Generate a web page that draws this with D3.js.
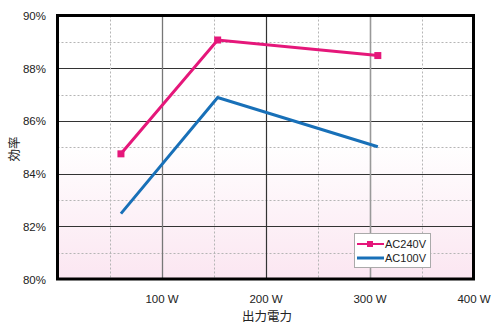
<!DOCTYPE html>
<html><head><meta charset="utf-8">
<script src="https://cdn.jsdelivr.net/npm/d3@7"></script>
<style>body{margin:0;background:#fff;} svg{display:block;font-family:"Liberation Sans",Arial,sans-serif;}</style>
</head><body><div id="chart"></div>
<script>
const seriesNames = ["AC240V", "AC100V"];
const power = [61, 154, 308];
const ac240 = [84.75, 89.07, 88.48];
const ac100 = [82.48, 86.89, 85.02];
const xTicks = [100, 200, 300, 400];
const yTicks = [80, 82, 84, 86, 88, 90];
const colors = ["#e5177a", "#1870b8"];

const W = 500, H = 328;
const svg = d3.select("#chart").append("svg").attr("width", W).attr("height", H);
const x = d3.scaleLinear().domain([0, 400]).range([57.5, 473.5]);
const y = d3.scaleLinear().domain([80, 90]).range([279, 15.5]);

const defs = svg.append("defs");
const grad = defs.append("linearGradient").attr("id", "bg").attr("x1", 0).attr("y1", 0).attr("x2", 0).attr("y2", 1);
grad.append("stop").attr("offset", "0").attr("stop-color", "#ffffff");
grad.append("stop").attr("offset", "0.48").attr("stop-color", "#ffffff");
grad.append("stop").attr("offset", "1").attr("stop-color", "#fbe6f1");

svg.append("rect").attr("x", x(0)).attr("y", y(90)).attr("width", x(400) - x(0)).attr("height", y(80) - y(90)).attr("fill", "url(#bg)");

// horizontal grid
const hg = svg.append("g");
d3.range(81, 90).forEach(v => {
  const major = v % 2 === 0;
  hg.append("line").attr("x1", x(0)).attr("x2", x(400)).attr("y1", Math.round(y(v)) + 0.5).attr("y2", Math.round(y(v)) + 0.5)
    .attr("stroke", major ? "#333" : "#b5b5b5").attr("stroke-width", major ? 1.2 : 1)
    .attr("stroke-dasharray", major ? null : "2,2");
});
// vertical grid
[50, 100, 150, 200, 250, 300, 350].forEach(v => {
  const dashed = v % 100 !== 0;
  let col = "#b5b5b5", sw = 1;
  if (v === 200) { col = "#333"; sw = 1.2; }
  else if (v === 100) { col = "#777"; sw = 1.3; }
  else if (v === 300) { col = "#999"; sw = 1.6; }
  svg.append("line").attr("x1", Math.round(x(v)) + 0.5).attr("x2", Math.round(x(v)) + 0.5).attr("y1", y(90)).attr("y2", y(80))
    .attr("stroke", col).attr("stroke-width", sw).attr("stroke-dasharray", dashed ? "2,2" : null);
});

// frame
svg.append("rect").attr("x", x(0)).attr("y", y(90)).attr("width", x(400) - x(0)).attr("height", y(80) - y(90))
  .attr("fill", "none").attr("stroke", "#000").attr("stroke-width", 3);

// axes labels
const xAxis = d3.axisBottom(x).tickValues(xTicks).tickFormat(d => d + " W").tickSize(0).tickPadding(0);
const gx = svg.append("g").attr("transform", `translate(0,${y(80)})`).call(xAxis);
gx.select(".domain").remove();
gx.selectAll("text").attr("font-size", 11.5).attr("fill", "#222").attr("dy", null).attr("y", 24);

const yAxis = d3.axisLeft(y).tickValues(yTicks).tickFormat(d => d + "%").tickSize(0).tickPadding(0);
const gy = svg.append("g").attr("transform", `translate(46,0)`).call(yAxis);
gy.select(".domain").remove();
gy.selectAll("text").attr("font-size", 11.5).attr("fill", "#222").attr("dy", "0.35em");

svg.append("text").attr("x", 267).attr("y", 321).attr("text-anchor", "middle").attr("font-size", 12.5).attr("fill", "#222")
  .attr("font-family", "'Noto Sans CJK JP', sans-serif").text("出力電力");
svg.append("text").attr("transform", "translate(19,149) rotate(-90)").attr("text-anchor", "middle").attr("font-size", 12.5).attr("fill", "#222")
  .attr("font-family", "'Noto Sans CJK JP', sans-serif").text("効率");

// lines
const line = d3.line().x((d, i) => x(power[i])).y(d => y(d));
[ac240, ac100].forEach((s, k) => {
  svg.append("path").datum(s).attr("d", line).attr("fill", "none").attr("stroke", colors[k]).attr("stroke-width", 3);
});
svg.selectAll(".mk").data(ac240).enter().append("rect").attr("class", "mk")
  .attr("x", (d, i) => x(power[i]) - 3.5).attr("y", d => y(d) - 3.5).attr("width", 7).attr("height", 7).attr("fill", colors[0]);

// legend
const lg = svg.append("g").attr("transform", "translate(354,233)");
lg.append("rect").attr("x", 0.5).attr("y", 0.5).attr("width", 76).attr("height", 34).attr("fill", "#fff").attr("stroke", "#aaa");
seriesNames.forEach((n, i) => {
  const yy = 11 + i * 14;
  lg.append("line").attr("x1", 3).attr("x2", 30).attr("y1", yy).attr("y2", yy).attr("stroke", colors[i]).attr("stroke-width", i === 0 ? 2 : 3);
  if (i === 0) lg.append("rect").attr("x", 13).attr("y", yy - 3).attr("width", 6).attr("height", 6).attr("fill", colors[0]);
  lg.append("text").attr("x", 31).attr("y", yy).attr("dy", "0.36em").attr("font-size", 11).attr("fill", "#222").text(n);
});
</script></body></html>
